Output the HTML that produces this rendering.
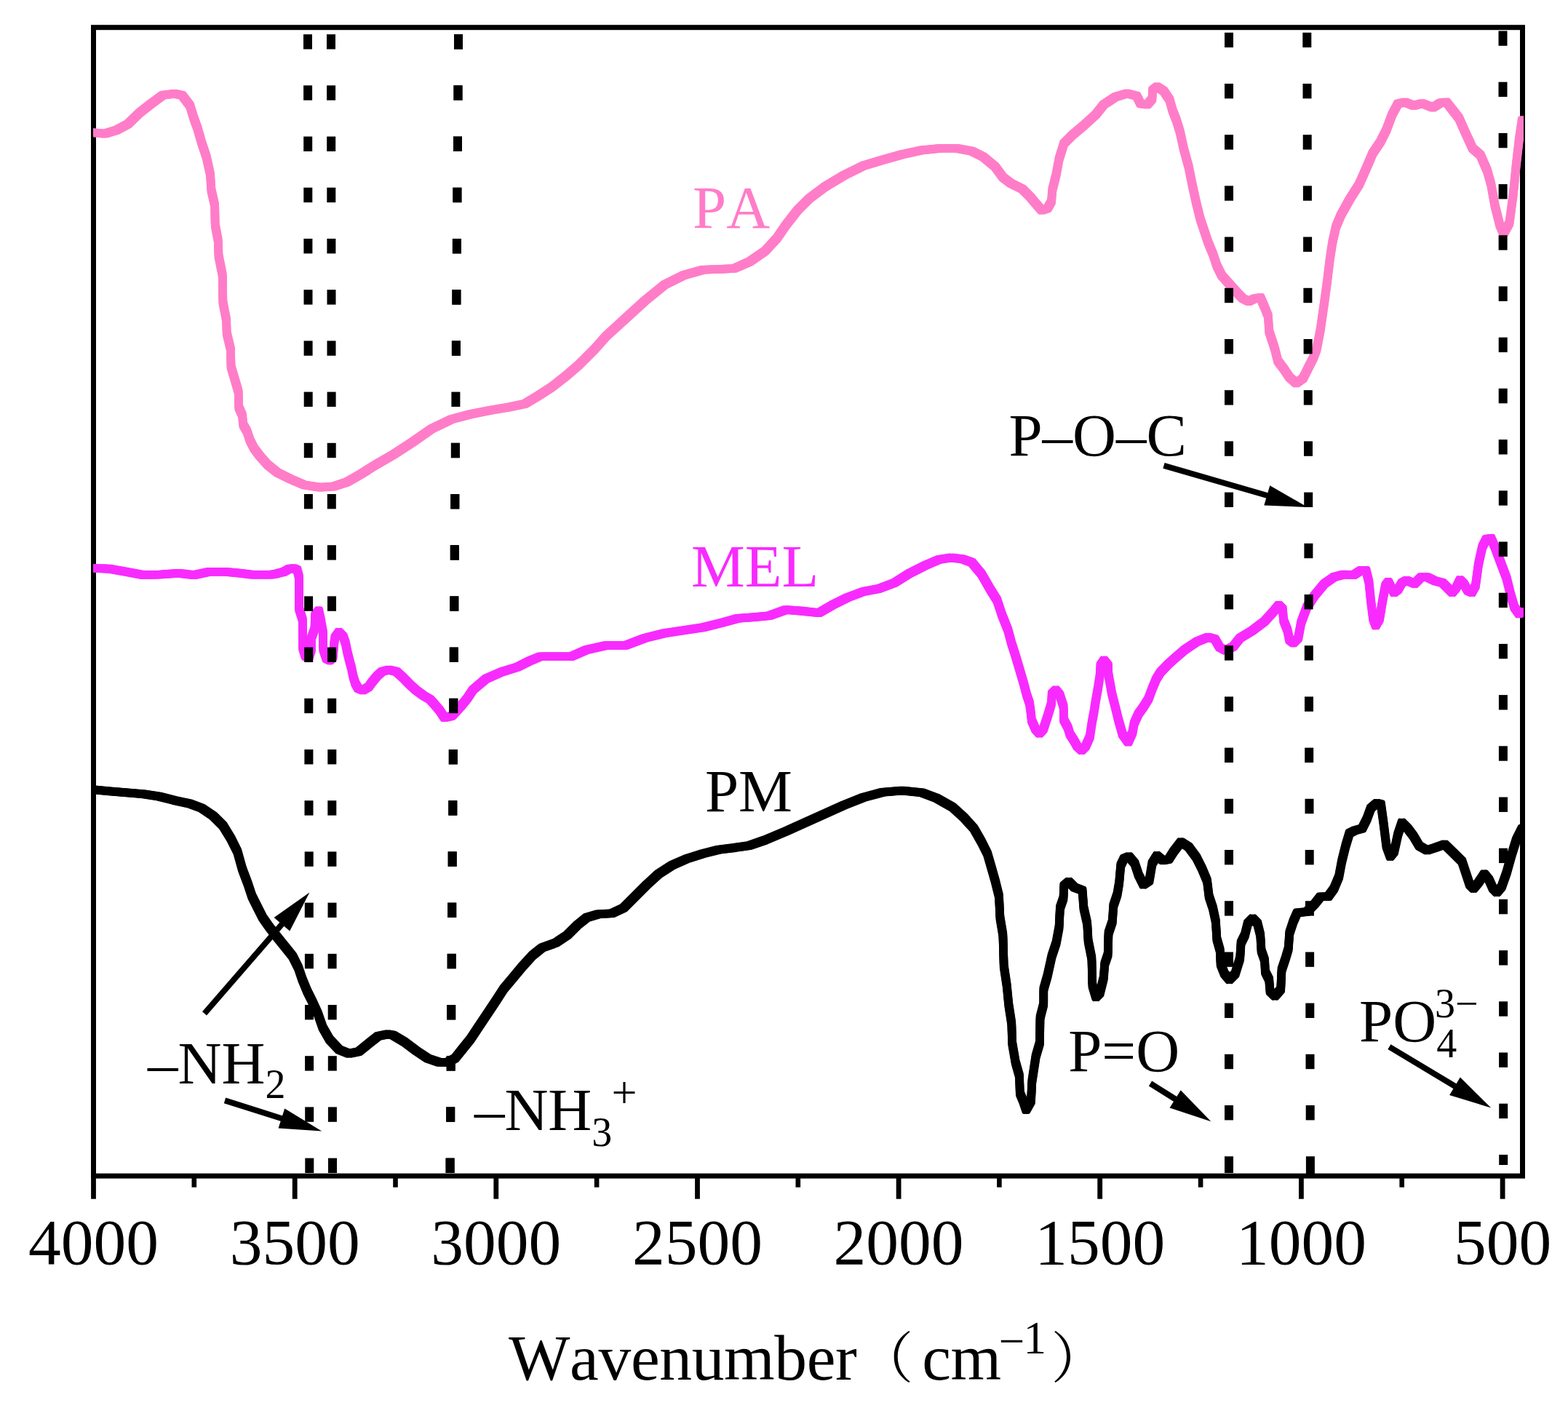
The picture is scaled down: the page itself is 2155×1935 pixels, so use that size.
<!DOCTYPE html>
<html lang="en">
<head>
<meta charset="utf-8">
<title>FTIR spectra of PA, MEL and PM</title>
<style>
html,body{margin:0;padding:0;background:#fff;}
body{width:2155px;height:1935px;overflow:hidden;}
svg{display:block;}
text{white-space:pre;}
</style>
</head>
<body>
<svg width="2155" height="1935" viewBox="0 0 2155 1935" role="img" aria-label="FTIR spectra of PA, MEL and PM">
<rect x="0" y="0" width="2155" height="1935" fill="#fff"/>
<defs><clipPath id="plot"><rect x="128" y="37.7" width="1966" height="1578.4"/></clipPath></defs>
<rect x="128.5" y="37.7" width="1964" height="1578.4" fill="none" stroke="#000" stroke-width="7"/>
<g id="dash-under"><rect x="624.0" y="47.2" width="12.0" height="20.4" fill="#000"/>
<rect x="623.5" y="117.4" width="12.0" height="20.4" fill="#000"/>
<rect x="623.0" y="187.6" width="12.0" height="20.4" fill="#000"/>
<rect x="622.4" y="257.8" width="12.0" height="20.4" fill="#000"/>
<rect x="621.9" y="328.0" width="12.0" height="20.4" fill="#000"/>
<rect x="621.4" y="398.2" width="12.0" height="20.4" fill="#000"/>
<rect x="620.9" y="468.4" width="12.0" height="20.4" fill="#000"/>
<rect x="620.4" y="538.6" width="12.0" height="20.4" fill="#000"/>
<rect x="619.9" y="608.8" width="12.0" height="20.4" fill="#000"/>
<rect x="619.3" y="679.0" width="12.0" height="20.4" fill="#000"/>
<rect x="618.8" y="749.2" width="12.0" height="20.4" fill="#000"/>
<rect x="618.3" y="819.4" width="12.0" height="20.4" fill="#000"/>
<rect x="617.8" y="889.6" width="12.0" height="20.4" fill="#000"/>
<rect x="617.3" y="959.8" width="12.0" height="20.4" fill="#000"/>
<rect x="616.8" y="1030.0" width="12.0" height="20.4" fill="#000"/>
<rect x="616.3" y="1100.2" width="12.0" height="20.4" fill="#000"/>
<rect x="615.7" y="1170.4" width="12.0" height="20.4" fill="#000"/>
<rect x="615.2" y="1240.6" width="12.0" height="20.4" fill="#000"/>
<rect x="614.7" y="1310.8" width="12.0" height="20.4" fill="#000"/>
<rect x="614.2" y="1381.0" width="12.0" height="20.4" fill="#000"/>
<rect x="613.7" y="1451.2" width="12.0" height="20.4" fill="#000"/>
<rect x="613.2" y="1521.4" width="12.0" height="20.4" fill="#000"/>
<rect x="612.6" y="1591.6" width="12.0" height="20.4" fill="#000"/></g>
<g id="curves" clip-path="url(#plot)">
<g fill="none" stroke="#F82BFF" stroke-linejoin="round" stroke-linecap="butt"><defs><polyline id="mel" points="118.0,781.0 128.4,781.0 149.2,781.6 173.2,785.8 197.1,790.3 221.1,789.5 245.1,787.7 266.4,790.3 287.7,785.8 309.0,785.8 330.3,787.7 346.3,789.8 373.0,789.8 380.0,788.4 390.5,785.7 397.1,781.8 403.7,781.1 408.4,783.1 411.0,793.0 411.0,836.5 416.0,852.3 416.1,890.6 419.6,901.8 424.2,904.4 428.1,891.9 427.7,877.4 432.5,864.2 433.0,845.7 438.0,839.1 440.9,852.3 444.0,869.5 444.2,891.9 448.6,905.1 453.2,907.7 457.8,902.4 459.1,885.3 460.4,876.0 465.7,868.8 471.7,874.7 474.9,884.0 477.3,895.8 480.2,907.7 483.1,918.2 485.5,930.1 488.4,939.3 492.1,945.9 498.7,948.6 506.6,944.0 511.9,936.7 518.5,928.8 525.1,922.9 534.3,920.5 544.8,922.9 554.1,931.4 563.3,940.7 571.2,947.9 581.8,955.8 591.0,961.1 597.6,968.4 604.2,976.3 610.8,986.2 620.0,984.2 622.0,983.0 633.0,971.0 642.0,960.0 650.0,948.0 667.9,932.9 689.2,923.5 710.5,916.9 726.5,908.9 742.5,902.2 763.8,902.2 785.1,902.2 806.4,892.9 833.0,887.0 859.7,887.0 886.3,876.9 913.0,870.3 939.6,866.3 966.2,862.3 992.9,855.6 1014.2,849.8 1035.5,848.2 1056.8,846.3 1080.0,838.0 1101.3,839.6 1125.3,842.3 1143.9,831.6 1165.2,821.0 1186.6,813.0 1207.9,809.0 1229.2,801.0 1250.5,787.7 1271.8,777.0 1290.4,769.0 1306.4,766.4 1322.4,768.2 1335.7,773.0 1349.0,789.0 1359.7,807.7 1370.4,825.0 1377.0,845.0 1385.3,865.9 1390.1,883.7 1395.4,900.3 1400.7,918.0 1406.6,938.1 1411.0,954.7 1415.0,966.6 1416.6,978.4 1417.9,990.2 1423.2,1002.1 1428.5,1008.0 1433.9,1002.1 1439.8,984.3 1445.1,966.6 1445.7,953.5 1451.0,948.2 1456.4,954.7 1461.7,971.3 1461.9,989.1 1467.6,999.7 1470.6,1009.2 1475.9,1017.5 1480.6,1025.8 1486.6,1031.1 1491.9,1025.8 1497.8,1012.7 1500.8,992.6 1503.7,977.2 1506.1,961.8 1509.1,945.2 1512.0,926.3 1512.4,914.5 1517.3,907.4 1523.0,914.5 1523.3,926.3 1528.2,953.5 1533.9,976.0 1536.9,988.5 1539.8,998.5 1542.8,1009.2 1550.5,1019.8 1556.4,1006.8 1558.8,993.8 1564.7,980.8 1570.0,973.7 1578.3,960.6 1583.1,947.6 1589.0,933.4 1594.9,923.9 1605.0,913.3 1615.6,903.8 1628.3,892.9 1644.3,882.2 1660.3,875.6 1669.6,878.2 1676.3,889.6 1684.3,893.9 1694.9,888.5 1704.2,876.9 1721.6,866.3 1737.5,854.3 1750.9,839.6 1757.5,831.6 1762.8,837.0 1764.2,852.9 1769.5,866.3 1772.2,879.6 1777.5,883.6 1784.2,876.9 1788.2,855.6 1796.1,834.3 1806.8,818.3 1820.1,802.3 1833.4,793.0 1846.8,789.5 1860.1,790.3 1870.7,783.7 1877.4,783.7 1881.4,799.7 1884.1,826.3 1887.2,850.3 1890.7,859.6 1896.0,850.3 1900.0,826.3 1904.0,805.0 1908.0,799.7 1912.0,807.7 1916.0,814.3 1921.3,810.3 1926.7,801.0 1933.3,797.5 1944.0,802.3 1953.3,793.0 1961.3,793.0 1972.0,798.3 1982.6,801.0 1990.6,809.0 1995.9,814.3 2001.3,807.7 2006.6,797.0 2011.9,802.3 2017.2,811.7 2022.6,814.3 2027.9,805.0 2031.9,775.7 2037.2,751.7 2042.5,741.1 2049.2,739.7 2054.5,751.7 2062.5,773.0 2070.5,794.3 2075.8,815.7 2081.2,834.3 2087.8,843.6 2093.2,841.0 2103.0,841.0"/></defs><use href="#mel" stroke-width="11.6"/><use href="#mel" transform="translate(2.9,2.9)" stroke-width="5.8"/><use href="#mel" transform="translate(2.9,-2.9)" stroke-width="5.8"/><use href="#mel" transform="translate(-2.9,2.9)" stroke-width="5.8"/><use href="#mel" transform="translate(-2.9,-2.9)" stroke-width="5.8"/></g>
<g fill="none" stroke="#FF7DC8" stroke-linejoin="round" stroke-linecap="butt"><defs><polyline id="pa" points="118.0,182.2 128.4,182.2 143.9,183.8 159.8,179.0 175.8,170.5 191.8,155.0 207.8,142.5 223.8,130.8 239.8,128.7 250.4,131.1 261.1,145.2 266.4,162.5 271.7,177.2 277.0,195.8 283.7,215.8 289.0,239.8 290.4,261.1 295.2,282.4 295.7,309.0 299.7,330.3 300.5,351.7 305.8,378.3 306.4,415.6 311.1,439.6 311.7,458.2 317.0,480.0 317.5,504.0 322.3,520.0 327.7,538.6 328.2,559.9 333.0,570.6 334.3,583.9 339.6,593.2 343.6,605.2 349.0,615.9 357.0,626.5 367.6,638.5 380.9,649.2 399.6,658.5 418.2,666.5 439.5,669.7 458.2,668.6 476.8,662.5 495.5,651.8 516.8,638.5 540.0,625.2 566.6,607.9 593.3,589.2 619.9,576.4 646.6,569.2 673.2,563.9 699.8,559.4 721.1,555.1 739.8,543.9 758.4,531.9 777.1,517.3 795.7,501.3 817.0,480.0 833.0,462.0 859.7,437.6 886.3,413.4 913.0,391.6 939.6,378.3 966.2,370.8 992.9,369.8 1008.9,369.0 1030.2,359.6 1051.5,345.0 1067.5,327.7 1080.0,309.5 1096.0,289.0 1112.0,273.0 1133.3,257.0 1159.9,241.0 1186.6,227.8 1213.2,219.8 1239.8,212.3 1266.5,206.4 1293.1,203.8 1314.4,203.8 1335.7,207.8 1351.7,215.8 1367.7,229.1 1378.4,243.7 1389.0,251.7 1405.0,259.7 1415.7,270.4 1423.6,279.7 1431.6,289.0 1439.6,286.4 1445.0,277.0 1446.3,261.0 1451.6,239.8 1455.6,218.4 1462.3,197.1 1474.3,185.1 1490.2,171.8 1506.2,157.2 1516.9,143.8 1532.9,133.2 1548.9,128.4 1562.2,131.9 1567.5,142.5 1576.8,143.8 1583.5,135.9 1584.0,123.9 1590.1,119.1 1599.5,125.2 1607.5,137.2 1611.5,151.8 1616.8,165.2 1621.7,181.1 1627.0,205.1 1633.6,229.1 1639.0,255.7 1644.3,279.7 1649.6,301.0 1655.0,317.0 1660.3,333.0 1667.0,349.0 1672.3,365.0 1678.9,378.3 1689.6,390.3 1700.2,402.2 1708.2,410.2 1716.2,414.2 1724.2,410.2 1732.2,408.9 1737.5,420.9 1742.9,434.2 1744.2,455.5 1749.5,471.5 1752.2,480.0 1756.2,496.0 1764.2,506.6 1772.2,518.6 1781.5,526.6 1790.8,520.0 1798.8,504.0 1805.5,490.7 1809.5,480.0 1814.8,452.8 1820.1,415.6 1824.1,386.3 1827.6,357.0 1831.3,333.0 1836.1,311.7 1842.8,295.7 1854.7,274.4 1868.1,253.1 1878.7,229.1 1886.7,210.4 1897.4,194.5 1905.4,178.5 1913.4,157.2 1921.3,142.5 1930.7,140.4 1942.7,145.2 1954.6,142.0 1969.3,147.8 1980.0,141.2 1987.9,140.4 1995.9,150.5 2005.2,162.5 2014.6,183.8 2023.9,203.8 2034.6,213.1 2043.9,234.4 2049.2,253.1 2054.5,282.4 2061.2,309.0 2066.5,321.0 2074.5,306.3 2079.8,266.4 2083.8,226.4 2087.8,191.8 2091.8,165.2 2103.0,165.2"/></defs><use href="#pa" stroke-width="11.6"/><use href="#pa" transform="translate(2.9,2.9)" stroke-width="5.8"/><use href="#pa" transform="translate(2.9,-2.9)" stroke-width="5.8"/><use href="#pa" transform="translate(-2.9,2.9)" stroke-width="5.8"/><use href="#pa" transform="translate(-2.9,-2.9)" stroke-width="5.8"/></g>
<g fill="none" stroke="#000" stroke-linejoin="round" stroke-linecap="butt"><defs><polyline id="pm" points="118.0,1085.2 128.4,1085.2 149.2,1087.3 173.2,1089.2 197.1,1091.3 218.4,1094.5 239.8,1099.9 261.1,1104.6 277.0,1110.5 293.0,1121.2 306.4,1134.5 317.0,1151.8 326.3,1170.4 333.0,1194.4 341.0,1215.7 346.3,1231.7 354.3,1247.7 361.0,1261.0 370.3,1274.3 380.9,1287.7 391.6,1301.0 402.2,1314.3 410.2,1330.3 415.6,1346.3 422.2,1362.2 428.9,1375.6 436.9,1393.0 443.5,1412.0 452.9,1428.5 466.2,1442.6 479.5,1447.9 492.8,1445.3 506.1,1434.6 519.5,1424.0 532.8,1421.3 540.0,1422.5 556.0,1432.0 572.0,1444.0 588.0,1454.6 604.0,1460.0 614.6,1460.0 625.2,1454.6 635.9,1441.3 646.6,1428.0 657.2,1412.0 667.9,1396.0 679.9,1378.0 691.8,1359.6 705.2,1343.6 718.5,1327.6 731.8,1313.0 745.1,1302.3 763.8,1295.7 779.8,1285.0 793.1,1271.7 806.4,1261.0 822.4,1256.2 841.0,1255.2 857.0,1247.7 873.0,1231.7 889.0,1215.7 905.0,1201.1 923.6,1189.1 944.9,1179.8 966.2,1173.1 987.5,1167.8 1008.9,1165.1 1030.2,1161.9 1051.5,1154.5 1080.0,1142.5 1106.6,1130.5 1133.3,1118.5 1159.9,1106.5 1186.6,1095.9 1213.2,1088.7 1239.8,1086.5 1266.5,1089.2 1287.8,1097.2 1309.1,1109.2 1325.1,1123.8 1338.4,1138.5 1349.0,1157.1 1357.0,1173.1 1362.4,1191.8 1367.7,1210.4 1373.0,1231.7 1374.4,1261.0 1378.4,1285.0 1379.7,1327.6 1383.7,1354.3 1386.3,1380.9 1390.3,1406.6 1391.1,1433.3 1395.7,1459.9 1401.0,1478.6 1401.8,1502.5 1406.3,1513.2 1410.3,1525.2 1417.0,1513.2 1418.3,1486.6 1423.6,1451.9 1429.0,1433.3 1429.5,1398.6 1434.3,1380.0 1434.3,1359.6 1439.6,1341.0 1445.5,1314.3 1451.6,1295.7 1455.6,1274.3 1456.9,1247.7 1461.5,1234.4 1462.3,1217.1 1468.9,1211.7 1476.9,1219.7 1487.6,1223.7 1489.4,1247.7 1494.2,1269.0 1495.6,1293.0 1500.4,1317.0 1501.4,1354.3 1506.2,1370.3 1511.6,1364.9 1516.9,1343.6 1518.2,1325.0 1522.7,1311.7 1523.5,1282.4 1528.9,1266.4 1530.2,1245.0 1535.5,1229.1 1538.2,1213.1 1540.3,1189.1 1544.8,1179.8 1551.5,1177.1 1559.5,1186.5 1564.8,1202.4 1571.5,1215.7 1579.5,1210.4 1583.5,1186.5 1590.1,1175.8 1598.1,1182.5 1606.1,1181.1 1612.8,1170.5 1623.0,1157.1 1633.6,1163.8 1644.3,1178.4 1652.3,1194.4 1659.0,1210.4 1661.6,1231.7 1666.9,1247.7 1670.9,1266.4 1672.3,1290.3 1676.8,1306.3 1677.6,1325.0 1682.9,1338.3 1689.6,1346.3 1697.6,1338.3 1704.2,1317.0 1705.6,1295.7 1710.9,1285.0 1714.9,1269.0 1721.6,1262.3 1728.2,1269.0 1732.2,1285.0 1733.5,1306.3 1738.1,1319.6 1738.9,1335.6 1744.2,1346.3 1745.5,1362.2 1752.2,1368.9 1760.2,1359.6 1761.5,1332.9 1766.8,1317.0 1770.8,1303.6 1772.2,1282.4 1777.5,1266.4 1782.8,1254.4 1796.1,1253.0 1806.8,1242.4 1814.8,1232.2 1825.4,1232.2 1833.4,1221.1 1840.1,1205.1 1844.1,1183.8 1849.4,1162.5 1854.7,1145.1 1862.7,1141.1 1872.1,1138.5 1878.7,1125.2 1884.1,1110.5 1892.0,1103.8 1897.9,1105.2 1901.4,1130.5 1905.4,1162.5 1910.7,1177.1 1916.0,1170.5 1921.3,1146.5 1926.7,1130.5 1934.7,1138.5 1942.7,1149.1 1950.6,1162.5 1961.3,1168.6 1972.0,1165.1 1985.3,1160.3 1995.9,1170.5 2009.3,1183.8 2014.6,1199.7 2019.9,1215.7 2025.2,1221.1 2031.9,1213.1 2039.9,1201.1 2046.5,1209.1 2051.9,1221.1 2057.2,1226.4 2063.9,1218.4 2070.5,1199.7 2077.2,1175.8 2083.8,1154.5 2091.8,1138.5 2103.0,1138.5"/></defs><use href="#pm" stroke-width="11.6"/><use href="#pm" transform="translate(2.9,2.9)" stroke-width="5.8"/><use href="#pm" transform="translate(2.9,-2.9)" stroke-width="5.8"/><use href="#pm" transform="translate(-2.9,2.9)" stroke-width="5.8"/><use href="#pm" transform="translate(-2.9,-2.9)" stroke-width="5.8"/></g>
</g>
<g id="dash-over"><rect x="417.0" y="47.2" width="12.0" height="20.4" fill="#000"/>
<rect x="417.1" y="117.4" width="12.0" height="20.4" fill="#000"/>
<rect x="417.2" y="187.6" width="12.0" height="20.4" fill="#000"/>
<rect x="417.3" y="257.8" width="12.0" height="20.4" fill="#000"/>
<rect x="417.4" y="328.0" width="12.0" height="20.4" fill="#000"/>
<rect x="417.5" y="398.2" width="12.0" height="20.4" fill="#000"/>
<rect x="417.6" y="468.4" width="12.0" height="20.4" fill="#000"/>
<rect x="417.7" y="538.6" width="12.0" height="20.4" fill="#000"/>
<rect x="417.8" y="608.8" width="12.0" height="20.4" fill="#000"/>
<rect x="417.9" y="679.0" width="12.0" height="20.4" fill="#000"/>
<rect x="418.0" y="749.2" width="12.0" height="20.4" fill="#000"/>
<rect x="418.1" y="819.4" width="12.0" height="20.4" fill="#000"/>
<rect x="418.2" y="889.6" width="12.0" height="20.4" fill="#000"/>
<rect x="418.3" y="959.8" width="12.0" height="20.4" fill="#000"/>
<rect x="418.4" y="1030.0" width="12.0" height="20.4" fill="#000"/>
<rect x="418.5" y="1100.2" width="12.0" height="20.4" fill="#000"/>
<rect x="418.7" y="1170.4" width="12.0" height="20.4" fill="#000"/>
<rect x="418.8" y="1240.6" width="12.0" height="20.4" fill="#000"/>
<rect x="418.9" y="1310.8" width="12.0" height="20.4" fill="#000"/>
<rect x="419.0" y="1381.0" width="12.0" height="20.4" fill="#000"/>
<rect x="419.1" y="1451.2" width="12.0" height="20.4" fill="#000"/>
<rect x="419.2" y="1521.4" width="12.0" height="20.4" fill="#000"/>
<rect x="419.3" y="1591.6" width="12.0" height="20.4" fill="#000"/>
<rect x="449.0" y="47.2" width="12.0" height="20.4" fill="#000"/>
<rect x="449.1" y="117.4" width="12.0" height="20.4" fill="#000"/>
<rect x="449.2" y="187.6" width="12.0" height="20.4" fill="#000"/>
<rect x="449.3" y="257.8" width="12.0" height="20.4" fill="#000"/>
<rect x="449.4" y="328.0" width="12.0" height="20.4" fill="#000"/>
<rect x="449.5" y="398.2" width="12.0" height="20.4" fill="#000"/>
<rect x="449.5" y="468.4" width="12.0" height="20.4" fill="#000"/>
<rect x="449.6" y="538.6" width="12.0" height="20.4" fill="#000"/>
<rect x="449.7" y="608.8" width="12.0" height="20.4" fill="#000"/>
<rect x="449.8" y="679.0" width="12.0" height="20.4" fill="#000"/>
<rect x="449.9" y="749.2" width="12.0" height="20.4" fill="#000"/>
<rect x="450.0" y="819.4" width="12.0" height="20.4" fill="#000"/>
<rect x="450.1" y="889.6" width="12.0" height="20.4" fill="#000"/>
<rect x="450.2" y="959.8" width="12.0" height="20.4" fill="#000"/>
<rect x="450.3" y="1030.0" width="12.0" height="20.4" fill="#000"/>
<rect x="450.3" y="1100.2" width="12.0" height="20.4" fill="#000"/>
<rect x="450.4" y="1170.4" width="12.0" height="20.4" fill="#000"/>
<rect x="450.5" y="1240.6" width="12.0" height="20.4" fill="#000"/>
<rect x="450.6" y="1310.8" width="12.0" height="20.4" fill="#000"/>
<rect x="450.7" y="1381.0" width="12.0" height="20.4" fill="#000"/>
<rect x="450.8" y="1451.2" width="12.0" height="20.4" fill="#000"/>
<rect x="450.9" y="1521.4" width="12.0" height="20.4" fill="#000"/>
<rect x="451.0" y="1591.6" width="12.0" height="20.4" fill="#000"/>
<rect x="1683.0" y="44.8" width="12.0" height="20.4" fill="#000"/>
<rect x="1683.0" y="115.0" width="12.0" height="20.4" fill="#000"/>
<rect x="1683.0" y="185.2" width="12.0" height="20.4" fill="#000"/>
<rect x="1683.0" y="255.4" width="12.0" height="20.4" fill="#000"/>
<rect x="1683.0" y="325.6" width="12.0" height="20.4" fill="#000"/>
<rect x="1683.0" y="395.8" width="12.0" height="20.4" fill="#000"/>
<rect x="1683.0" y="466.0" width="12.0" height="20.4" fill="#000"/>
<rect x="1683.0" y="536.2" width="12.0" height="20.4" fill="#000"/>
<rect x="1683.0" y="606.4" width="12.0" height="20.4" fill="#000"/>
<rect x="1683.0" y="676.6" width="12.0" height="20.4" fill="#000"/>
<rect x="1683.0" y="746.8" width="12.0" height="20.4" fill="#000"/>
<rect x="1683.0" y="817.0" width="12.0" height="20.4" fill="#000"/>
<rect x="1683.0" y="887.2" width="12.0" height="20.4" fill="#000"/>
<rect x="1683.0" y="957.4" width="12.0" height="20.4" fill="#000"/>
<rect x="1683.0" y="1027.6" width="12.0" height="20.4" fill="#000"/>
<rect x="1683.0" y="1097.8" width="12.0" height="20.4" fill="#000"/>
<rect x="1683.0" y="1168.0" width="12.0" height="20.4" fill="#000"/>
<rect x="1683.0" y="1238.2" width="12.0" height="20.4" fill="#000"/>
<rect x="1683.0" y="1308.4" width="12.0" height="20.4" fill="#000"/>
<rect x="1683.0" y="1378.6" width="12.0" height="20.4" fill="#000"/>
<rect x="1683.0" y="1448.8" width="12.0" height="20.4" fill="#000"/>
<rect x="1683.0" y="1519.0" width="12.0" height="20.4" fill="#000"/>
<rect x="1683.0" y="1589.2" width="12.0" height="22.8" fill="#000"/>
<rect x="1790.3" y="44.8" width="12.0" height="20.4" fill="#000"/>
<rect x="1790.5" y="115.0" width="12.0" height="20.4" fill="#000"/>
<rect x="1790.7" y="185.2" width="12.0" height="20.4" fill="#000"/>
<rect x="1790.9" y="255.4" width="12.0" height="20.4" fill="#000"/>
<rect x="1791.1" y="325.6" width="12.0" height="20.4" fill="#000"/>
<rect x="1791.4" y="395.8" width="12.0" height="20.4" fill="#000"/>
<rect x="1791.6" y="466.0" width="12.0" height="20.4" fill="#000"/>
<rect x="1791.8" y="536.2" width="12.0" height="20.4" fill="#000"/>
<rect x="1792.0" y="606.4" width="12.0" height="20.4" fill="#000"/>
<rect x="1792.2" y="676.6" width="12.0" height="20.4" fill="#000"/>
<rect x="1792.4" y="746.8" width="12.0" height="20.4" fill="#000"/>
<rect x="1792.6" y="817.0" width="12.0" height="20.4" fill="#000"/>
<rect x="1792.8" y="887.2" width="12.0" height="20.4" fill="#000"/>
<rect x="1793.0" y="957.4" width="12.0" height="20.4" fill="#000"/>
<rect x="1793.2" y="1027.6" width="12.0" height="20.4" fill="#000"/>
<rect x="1793.5" y="1097.8" width="12.0" height="20.4" fill="#000"/>
<rect x="1793.7" y="1168.0" width="12.0" height="20.4" fill="#000"/>
<rect x="1793.9" y="1238.2" width="12.0" height="20.4" fill="#000"/>
<rect x="1794.1" y="1308.4" width="12.0" height="20.4" fill="#000"/>
<rect x="1794.3" y="1378.6" width="12.0" height="20.4" fill="#000"/>
<rect x="1794.5" y="1448.8" width="12.0" height="20.4" fill="#000"/>
<rect x="1794.7" y="1519.0" width="12.0" height="20.4" fill="#000"/>
<rect x="1794.9" y="1589.2" width="12.0" height="24.8" fill="#000"/>
<rect x="2059.5" y="42.5" width="12.0" height="20.4" fill="#000"/>
<rect x="2059.5" y="112.7" width="12.0" height="20.4" fill="#000"/>
<rect x="2059.6" y="182.9" width="12.0" height="20.4" fill="#000"/>
<rect x="2059.6" y="253.1" width="12.0" height="20.4" fill="#000"/>
<rect x="2059.6" y="323.3" width="12.0" height="20.4" fill="#000"/>
<rect x="2059.7" y="393.5" width="12.0" height="20.4" fill="#000"/>
<rect x="2059.7" y="463.7" width="12.0" height="20.4" fill="#000"/>
<rect x="2059.7" y="533.9" width="12.0" height="20.4" fill="#000"/>
<rect x="2059.7" y="604.1" width="12.0" height="20.4" fill="#000"/>
<rect x="2059.8" y="674.3" width="12.0" height="20.4" fill="#000"/>
<rect x="2059.8" y="744.5" width="12.0" height="20.4" fill="#000"/>
<rect x="2059.8" y="814.7" width="12.0" height="20.4" fill="#000"/>
<rect x="2059.9" y="884.9" width="12.0" height="20.4" fill="#000"/>
<rect x="2059.9" y="955.1" width="12.0" height="20.4" fill="#000"/>
<rect x="2059.9" y="1025.3" width="12.0" height="20.4" fill="#000"/>
<rect x="2060.0" y="1095.5" width="12.0" height="20.4" fill="#000"/>
<rect x="2060.0" y="1165.7" width="12.0" height="20.4" fill="#000"/>
<rect x="2060.0" y="1235.9" width="12.0" height="20.4" fill="#000"/>
<rect x="2060.1" y="1306.1" width="12.0" height="20.4" fill="#000"/>
<rect x="2060.1" y="1376.3" width="12.0" height="20.4" fill="#000"/>
<rect x="2060.1" y="1446.5" width="12.0" height="20.4" fill="#000"/>
<rect x="2060.2" y="1516.7" width="12.0" height="20.4" fill="#000"/>
<rect x="2060.2" y="1586.9" width="12.0" height="14.1" fill="#000"/><rect x="624.0" y="47.2" width="12.0" height="20.4" fill="#000"/>
<rect x="623.5" y="117.4" width="12.0" height="20.4" fill="#000"/>
<rect x="623.0" y="187.6" width="12.0" height="20.4" fill="#000"/>
<rect x="622.4" y="257.8" width="12.0" height="20.4" fill="#000"/>
<rect x="621.9" y="328.0" width="12.0" height="20.4" fill="#000"/>
<rect x="621.4" y="398.2" width="12.0" height="20.4" fill="#000"/>
<rect x="620.9" y="468.4" width="12.0" height="20.4" fill="#000"/>
<rect x="619.9" y="608.8" width="12.0" height="20.4" fill="#000"/>
<rect x="619.3" y="679.0" width="12.0" height="20.4" fill="#000"/>
<rect x="618.8" y="749.2" width="12.0" height="20.4" fill="#000"/>
<rect x="618.3" y="819.4" width="12.0" height="20.4" fill="#000"/>
<rect x="617.8" y="889.6" width="12.0" height="20.4" fill="#000"/>
<rect x="617.3" y="959.8" width="12.0" height="20.4" fill="#000"/>
<rect x="616.8" y="1030.0" width="12.0" height="20.4" fill="#000"/>
<rect x="616.3" y="1100.2" width="12.0" height="20.4" fill="#000"/>
<rect x="615.7" y="1170.4" width="12.0" height="20.4" fill="#000"/>
<rect x="615.2" y="1240.6" width="12.0" height="20.4" fill="#000"/>
<rect x="614.7" y="1310.8" width="12.0" height="20.4" fill="#000"/>
<rect x="614.2" y="1381.0" width="12.0" height="20.4" fill="#000"/>
<rect x="613.7" y="1451.2" width="12.0" height="20.4" fill="#000"/>
<rect x="613.2" y="1521.4" width="12.0" height="20.4" fill="#000"/>
<rect x="612.6" y="1591.6" width="12.0" height="20.4" fill="#000"/></g>
<rect x="2061.7" y="1616" width="6.8" height="31.7" fill="#000"/>
<rect x="1785.0" y="1616" width="6.8" height="31.7" fill="#000"/>
<rect x="1508.3" y="1616" width="6.8" height="31.7" fill="#000"/>
<rect x="1231.7" y="1616" width="6.8" height="31.7" fill="#000"/>
<rect x="955.1" y="1616" width="6.8" height="31.7" fill="#000"/>
<rect x="678.4" y="1616" width="6.8" height="31.7" fill="#000"/>
<rect x="401.8" y="1616" width="6.8" height="31.7" fill="#000"/>
<rect x="125.1" y="1616" width="6.8" height="31.7" fill="#000"/>
<rect x="1923.4" y="1616" width="6.6" height="15.7" fill="#000"/>
<rect x="1646.8" y="1616" width="6.6" height="15.7" fill="#000"/>
<rect x="1370.1" y="1616" width="6.6" height="15.7" fill="#000"/>
<rect x="1093.5" y="1616" width="6.6" height="15.7" fill="#000"/>
<rect x="816.8" y="1616" width="6.6" height="15.7" fill="#000"/>
<rect x="540.2" y="1616" width="6.6" height="15.7" fill="#000"/>
<rect x="263.5" y="1616" width="6.6" height="15.7" fill="#000"/>
<g font-family="'Liberation Serif', 'Noto Serif CJK SC', serif" font-size="89.5" text-anchor="middle" fill="#000" style="font-kerning:none">
<text x="2065.1" y="1737.2">500</text>
<text x="1788.4" y="1737.2">1000</text>
<text x="1511.8" y="1737.2">1500</text>
<text x="1235.1" y="1737.2">2000</text>
<text x="958.5" y="1737.2">2500</text>
<text x="681.8" y="1737.2">3000</text>
<text x="405.2" y="1737.2">3500</text>
<text x="128.5" y="1737.2">4000</text>
</g>
<g font-family="'Liberation Serif', 'Noto Serif CJK SC', serif" font-size="89.5" fill="#000" style="font-kerning:none">
<text x="699" y="1896.4" letter-spacing="-0.35">Wavenumber</text>
<text x="1179.3" y="1893.1" font-size="76">（</text>
<text x="1267.2" y="1896.4" letter-spacing="-0.35">cm</text>
<text x="1372.7" y="1863.5" font-size="63">−</text>
<text x="1406.6" y="1859.5" font-size="63">1</text>
<text x="1444.4" y="1893.1" font-size="76">）</text>
</g>
<g id="arrows">
<line x1="1599.5" y1="639.8" x2="1745.1" y2="682.0" stroke="#000" stroke-width="8"/><polygon points="1797.0,697.0 1737.3,694.6 1745.3,667.2" fill="#000"/>
<line x1="281.0" y1="1392.9" x2="390.0" y2="1267.2" stroke="#000" stroke-width="8"/><polygon points="425.4,1226.4 398.2,1279.6 376.6,1260.9" fill="#000"/>
<line x1="309.0" y1="1512.4" x2="390.7" y2="1538.2" stroke="#000" stroke-width="8"/><polygon points="442.2,1554.5 382.6,1550.6 391.2,1523.4" fill="#000"/>
<line x1="1581.0" y1="1489.0" x2="1618.5" y2="1512.5" stroke="#000" stroke-width="8"/><polygon points="1664.3,1541.2 1607.6,1522.5 1622.7,1498.3" fill="#000"/>
<line x1="1909.4" y1="1438.6" x2="2002.9" y2="1494.7" stroke="#000" stroke-width="8"/><polygon points="2049.2,1522.5 1992.1,1504.9 2006.8,1480.4" fill="#000"/>
</g>
<g font-family="'Liberation Serif', 'Noto Serif CJK SC', serif" font-size="83" fill="#000" style="font-kerning:none">
<text x="952.1" y="313" fill="#FF7DC8">PA</text>
<text x="950" y="805.5" fill="#F82BFF">MEL</text>
<text x="968.9" y="1115.3">PM</text>
<text x="1386.4" y="626">P–O–C</text>
<text x="203" y="1488.7">–NH<tspan font-size="56" dy="20">2</tspan></text>
<text x="651.9" y="1553.2">–NH<tspan font-size="56" dy="22">3</tspan></text>
<text x="858.1" y="1521.6" font-size="62" text-anchor="middle">+</text>
<text x="1468.2" y="1471.9">P=O</text>
<text x="1868.1" y="1431.1">PO<tspan font-size="56" dy="22">4</tspan></text>
<text x="1972" y="1398" font-size="56">3−</text>
</g>
</svg>
</body>
</html>
